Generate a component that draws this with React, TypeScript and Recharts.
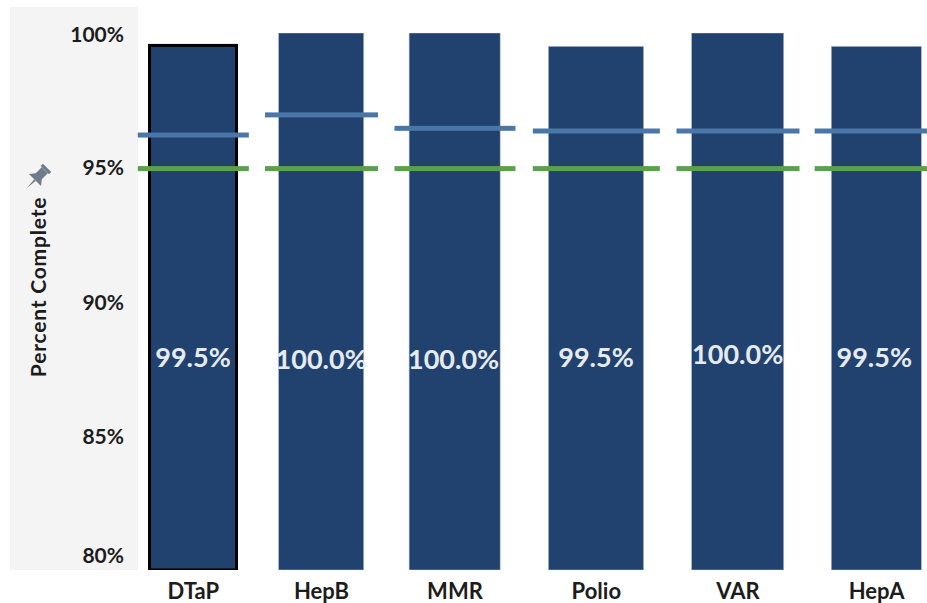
import React from 'react';
import { ComposedChart, Bar, Line, XAxis, YAxis, LabelList, Label } from 'recharts';

const categories = ['DTaP', 'HepB', 'MMR', 'Polio', 'VAR', 'HepA'];
const completion = [99.5, 100, 100, 99.5, 100, 99.5];
const comparison = [96.2, 96.95, 96.45, 96.35, 96.35, 96.35];
const goal = [94.95, 94.95, 94.95, 94.95, 94.95, 94.95];
const yTicks = [80, 85, 90, 95, 100];

// the original slots are not evenly spaced, so each one gets its own nudge and widths
const slotShift = [0, -8.5, -11.7, -7, -2, 0];
const barWidths = [87, 85, 91, 95, 92, 90];
const segWidths = [111, 113, 121, 127, 123, 124];
const labelShift = [0, 0, -1, 0, 0, -2];
const labelY = [367, 369, 369, 367, 364, 367];

const FONT = 'Lato, sans-serif';
const BAR_FILL = '#21426f';

const data = categories.map((name, i) => ({
  name,
  completion: completion[i],
  comparison: comparison[i],
  goal: goal[i],
}));

const BarShape = (props: any) => {
  const { x, y, width, height, index } = props;
  const w = barWidths[index];
  const left = x + width / 2 + slotShift[index] - w / 2;
  if (index === 0) {
    return <rect x={left} y={y - 1} width={w} height={height + 1} fill={BAR_FILL} stroke="#000" strokeWidth={3} />;
  }
  return <rect x={left} y={y} width={w} height={height} fill={BAR_FILL} stroke="#9fb2cc" strokeWidth={0.6} />;
};

const segment = (color: string) => (props: any) => {
  const { cx, cy, index } = props;
  const w = segWidths[index];
  return (
    <rect
      key={index}
      x={cx + slotShift[index] - w / 2}
      y={cy - 2.5}
      width={w}
      height={5}
      fill={color}
    />
  );
};

const XTick = (props: any) => {
  const { x, payload, index } = props;
  return (
    <text x={x + slotShift[index]} y={599} textAnchor="middle" fontFamily={FONT} fontWeight={700} fontSize={22} fill="#1c1c1c">
      {payload.value}
    </text>
  );
};

const YTick = (props: any) => {
  const { x, y, payload } = props;
  const nudge = payload.value === 80 ? -14 : payload.value === 100 ? 2 : 1;
  return (
    <text x={x + 5} y={y + nudge} dy={7} textAnchor="end" fontFamily={FONT} fontWeight={700} fontSize={21} fill="#1c1c1c">
      {payload.value}%
    </text>
  );
};

const ValueLabel = (props: any) => {
  const { x, width, value, index } = props;
  return (
    <text
      x={x + width / 2 + slotShift[index] + labelShift[index]}
      y={labelY[index]}
      textAnchor="middle"
      fontFamily={FONT}
      fontSize={27}
      fontWeight={700}
      fill="#e6ebf2"
    >
      {value.toFixed(1)}%
    </text>
  );
};

const AxisTitle = () => (
  <text
    transform="translate(46 287) rotate(-90)"
    textAnchor="middle"
    fontFamily={FONT}
    fontWeight={700}
    fontSize={21}
    letterSpacing={0.8}
    fill="#1c1c1c"
  >
    Percent Complete
  </text>
);

export default function App() {
  return (
    <div style={{ position: 'absolute', left: 0, top: 0, width: 927, height: 603, overflow: 'hidden', background: '#fff' }}>
      <div style={{ position: 'absolute', left: 10, top: 7, width: 128, height: 563, background: '#f4f4f4' }} />
      <svg style={{ position: 'absolute', left: 22, top: 161 }} width={32} height={32} viewBox="0 0 30 30">
        <g transform="rotate(45 15 15)" fill="#6f7b8a">
          <rect x={9.5} y={3} width={11} height={3} />
          <rect x={11} y={6} width={8} height={9} />
          <polygon points="7,19 23,19 19,14 11,14" />
          <polygon points="14,19 16,19 15,30" />
        </g>
      </svg>
      <div style={{ position: 'absolute', left: 0, top: 0 }}>
        <ComposedChart
          width={960}
          height={603}
          data={data}
          margin={{ top: 33, right: 15, bottom: 0, left: 0 }}
          barCategoryGap={0}
        >
          <XAxis dataKey="name" height={33} axisLine={false} tickLine={false} tick={<XTick />} interval={0} />
          <YAxis
            domain={[80, 100]}
            ticks={yTicks}
            width={125}
            axisLine={false}
            tickLine={false}
            tickMargin={0}
            tick={<YTick />}
            allowDataOverflow
          >
            <Label content={<AxisTitle />} />
          </YAxis>
          <Bar dataKey="completion" barSize={90} shape={<BarShape />} isAnimationActive={false}>
            <LabelList dataKey="completion" content={<ValueLabel />} />
          </Bar>
          <Line dataKey="comparison" stroke="none" dot={segment('#4a76a8')} activeDot={false} isAnimationActive={false} />
          <Line dataKey="goal" stroke="none" dot={segment('#58a14e')} activeDot={false} isAnimationActive={false} />
        </ComposedChart>
      </div>
    </div>
  );
}
